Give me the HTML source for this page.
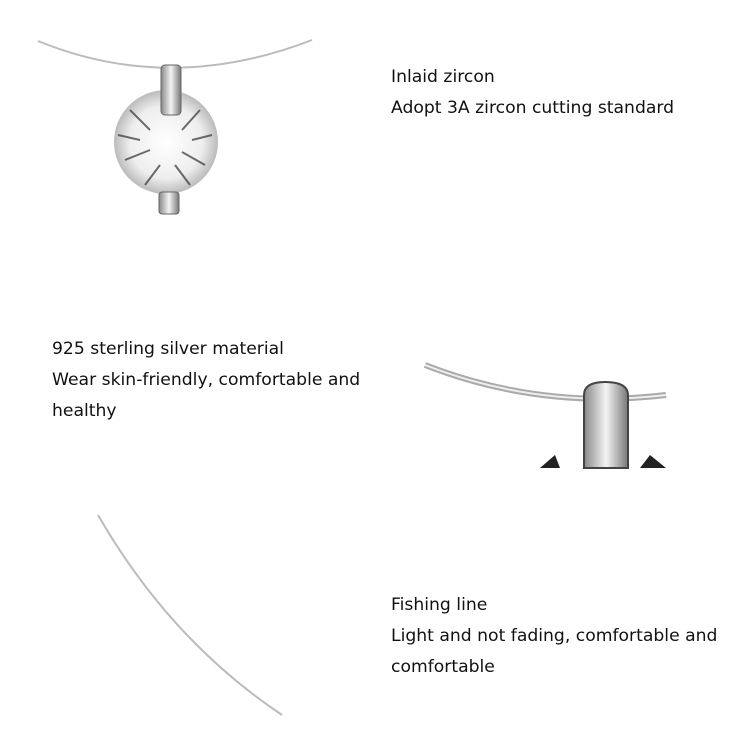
<!DOCTYPE html>
<html><head><style>
body{margin:0;width:750px;height:750px;background:#fff;position:relative;overflow:hidden;font-family:"DejaVu Sans",sans-serif;}
.t{position:absolute;font-size:17.2px;color:#111;line-height:31px;}
svg{position:absolute;left:0;top:0}
</style></head><body>
<svg width="750" height="750">
<defs>
<radialGradient id="g" cx="50%" cy="50%" r="50%"><stop offset="0" stop-color="#fff"/><stop offset="0.7" stop-color="#eee"/><stop offset="1" stop-color="#bbb"/></radialGradient>
<linearGradient id="m" x1="0" x2="1"><stop offset="0" stop-color="#888"/><stop offset=".5" stop-color="#f4f4f4"/><stop offset="1" stop-color="#777"/></linearGradient>
</defs>
<path d="M38 41 Q170 95 312 40" stroke="#bbb" stroke-width="2" fill="none"/>
<circle cx="166" cy="142" r="52" fill="url(#g)"/>
<g stroke="#333" stroke-width="2" opacity=".7">
<line x1="130" y1="110" x2="150" y2="130"/><line x1="200" y1="110" x2="182" y2="130"/><line x1="125" y1="160" x2="150" y2="150"/><line x1="205" y1="165" x2="182" y2="152"/><line x1="145" y1="185" x2="160" y2="165"/><line x1="190" y1="185" x2="175" y2="165"/><line x1="118" y1="135" x2="140" y2="140"/><line x1="212" y1="135" x2="192" y2="140"/>
</g>
<rect x="161" y="65" width="20" height="50" rx="4" fill="url(#m)" stroke="#666"/>
<rect x="159" y="192" width="20" height="22" rx="3" fill="url(#m)" stroke="#666"/>
<path d="M425 365 Q540 410 666 395" stroke="#aaa" stroke-width="6" fill="none"/>
<path d="M425 365 Q540 410 666 395" stroke="#eee" stroke-width="2" fill="none"/>
<path d="M584 468 L584 395 Q584 382 605 382 Q628 382 628 395 L628 468 Z" fill="url(#m)" stroke="#444" stroke-width="2"/>
<path d="M540 468 L555 455 L560 468Z M640 468 L650 455 L666 468Z" fill="#222"/>
<path d="M98 515 Q170 640 282 715" stroke="#bbb" stroke-width="2" fill="none"/>
</svg>
<div class="t" style="left:391px;top:62px">Inlaid zircon<br>Adopt 3A zircon cutting standard</div>
<div class="t" style="left:52px;top:334px">925 sterling silver material<br>Wear skin-friendly, comfortable and<br>healthy</div>
<div class="t" style="left:391px;top:590px">Fishing line<br>Light and not fading, comfortable and<br>comfortable</div>
</body></html>
